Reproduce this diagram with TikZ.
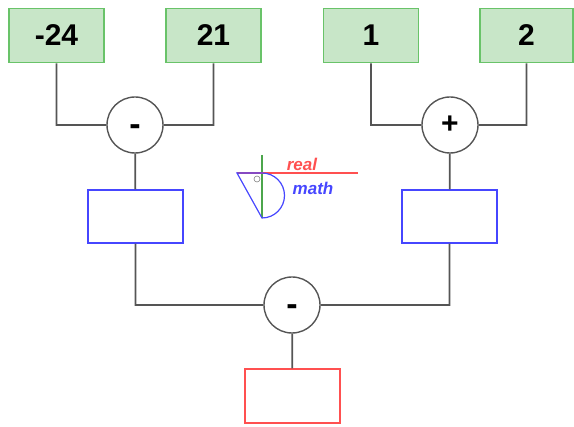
\documentclass[tikz,border=0pt]{standalone}
\usepackage{fontspec}
\setmainfont{Liberation Sans}
\usepackage{tikz}
\usetikzlibrary{positioning}

\definecolor{boxgreen}{RGB}{200,230,200}
\definecolor{edgegreen}{RGB}{105,195,105}
\definecolor{boxblue}{RGB}{70,70,255}
\definecolor{boxred}{RGB}{255,80,80}
\definecolor{wiregray}{RGB}{85,85,85}

\newcommand{\opminus}{\smash{\raisebox{-11pt}{\fontsize{34}{34}\selectfont -}}}

\begin{document}
\begin{tikzpicture}[x=1pt,y=-1pt,
  wire/.style={draw=wiregray,line width=1.8pt},
  num node/.style={rectangle,fill=boxgreen,draw=edgegreen,line width=1.6pt,
    minimum width=95pt,minimum height=54pt,font=\fontsize{30}{30}\selectfont\bfseries},
  op node/.style={circle,fill=white,draw=wiregray,line width=1.4pt,minimum size=56pt,
    inner sep=0pt,font=\fontsize{30}{30}\selectfont\bfseries},
  res node/.style={rectangle,fill=white,line width=1.4pt,minimum width=95pt,minimum height=53pt}]

  \useasboundingbox (0,0) rectangle (574,427);

  % inputs
  \node[num node] (a) at (56.5,35.5) {-24};
  \node[num node] (b) at (213.5,35.5) {21};
  \node[num node] (c) at (371,35.5) {1};
  \node[num node,minimum width=93pt] (d) at (526.5,35.5) {2};

  % operators
  \node[op node] (sub1) at (135,125) {\opminus};
  \node[op node] (add1) at (450,125) {+};
  \node[op node] (sub2) at (292,305) {\opminus};

  % results
  \node[res node,draw=boxblue] (r1) at (135.5,216.5) {};
  \node[res node,draw=boxblue] (r2) at (449.5,216.5) {};
  \node[res node,draw=boxred,minimum height=54pt] (r3) at (292.5,396) {};

  \path[wire]
    (a.south) |- (sub1.west)
    (b.south) |- (sub1.east)
    (c.south) |- (add1.west)
    (d.south) |- (add1.east)
    (sub1) -- (r1)
    (add1) -- (r2)
    (r1.south) |- (sub2.west)
    (r2.south) |- (sub2.east)
    (sub2) -- (r3);

  % logo
  \draw[green!50!black!70,line width=1.2pt] (262,155) -- (262,218);
  \draw[boxred,line width=1.2pt] (237,173) -- (358,173);
  \draw[boxblue,line width=1.2pt] (237,173) -- (262,173) arc[start angle=-90,end angle=90,radius=22.5] -- cycle;
  \draw[gray,line width=0.6pt] (257,179) circle[radius=3pt];
  \node[text=boxred,font=\fontsize{17}{17}\selectfont\itshape\bfseries] (real) at (302,164) {real};
  \node[text=boxblue,font=\fontsize{17}{17}\selectfont\itshape\bfseries] (math) at (313,188) {math};
\end{tikzpicture}
\end{document}
